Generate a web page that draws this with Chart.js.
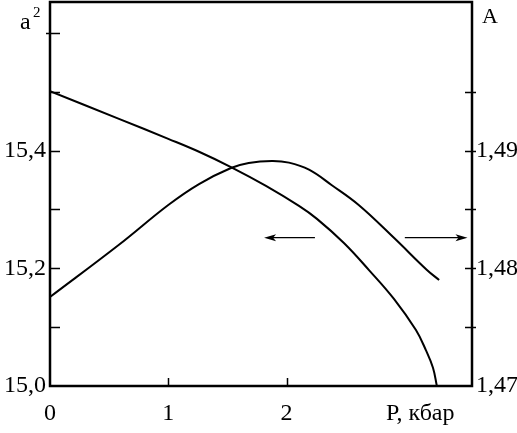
<!DOCTYPE html>
<html>
<head>
<meta charset="utf-8">
<script src="https://cdn.jsdelivr.net/npm/chart.js@4"></script>
<style>
html,body{margin:0;padding:0;background:#fff;}
#wrap{width:517px;height:433px;}
</style>
</head>
<body>
<div id="wrap"><canvas id="c" width="517" height="433"></canvas></div>
<script>
// ---- data ----
const pressureA2 = [0, 0.583, 1.0, 1.26, 1.53, 1.826, 2.105, 2.257, 2.485, 2.697, 2.908, 3.094, 3.178, 3.238, 3.271];
const a2Values   = [15.501, 15.454, 15.420, 15.398, 15.372, 15.340, 15.306, 15.284, 15.243, 15.197, 15.148, 15.095, 15.061, 15.031, 15.0];
const pressureA  = [0, 0.583, 1.0, 1.26, 1.53, 1.68, 1.877, 2.02, 2.19, 2.38, 2.61, 2.91, 3.187, 3.29];
const aValues    = [1.47756, 1.48200, 1.48538, 1.48716, 1.48852, 1.48895, 1.48912, 1.48898, 1.48838, 1.48708, 1.48538, 1.48257, 1.47986, 1.47901];

const xTickLabels = [0, 1, 2];
const xTitle = "P, кбар";
const xTitleAt = 3.13;
const xTickMarks = [1, 2];
const leftTickLabels = [15.0, 15.2, 15.4];
const leftTickMarks = [15.1, 15.2, 15.3, 15.4, 15.5, 15.6];
const rightTickLabels = [1.47, 1.48, 1.49];
const rightTickMarks = [1.475, 1.48, 1.485, 1.49, 1.495];
const leftTitle = "a";
const leftTitleSup = "2";
const rightTitle = "A";
// arrows in data units (left-axis values)
const arrowLeft  = {from: 2.24, to: 1.81, at: 15.252};
const arrowRight = {from: 3.00, to: 3.53, at: 15.252};

const FONT = "'Liberation Serif', 'Times New Roman', serif";

const pts = (xs, ys) => xs.map((x, i) => ({x: x, y: ys[i]}));

const framePlugin = {
  id: 'frame',
  afterDraw(chart) {
    const ctx = chart.ctx, a = chart.chartArea;
    const xs = chart.scales.x, yl = chart.scales.y, yr = chart.scales.y2;
    ctx.save();
    ctx.strokeStyle = '#000';
    // frame
    ctx.lineWidth = 2.5;
    ctx.strokeRect(a.left, a.top, a.right - a.left, a.bottom - a.top);
    // ticks
    ctx.lineWidth = 1.5;
    ctx.beginPath();
    leftTickMarks.forEach(v => {
      const y = Math.round(yl.getPixelForValue(v)) + 0.5;
      ctx.moveTo(a.left - (v >= 15.6 ? 4 : 0), y);
      ctx.lineTo(a.left + 10, y);
    });
    rightTickMarks.forEach(v => {
      const y = Math.round(yr.getPixelForValue(v)) + 0.5;
      ctx.moveTo(a.right - 7, y);
      ctx.lineTo(a.right + 4, y);
    });
    xTickMarks.forEach(v => {
      const x = Math.round(xs.getPixelForValue(v)) + 0.5;
      ctx.moveTo(x, a.bottom);
      ctx.lineTo(x, a.bottom - 8);
    });
    ctx.stroke();
    // arrows
    const drawArrow = (ar) => {
      const y = yl.getPixelForValue(ar.at);
      const x1 = xs.getPixelForValue(ar.from), x2 = xs.getPixelForValue(ar.to);
      const d = x2 > x1 ? 1 : -1;
      ctx.lineWidth = 1.2;
      ctx.beginPath();
      ctx.moveTo(x1, y); ctx.lineTo(x2 - d * 6, y);
      ctx.stroke();
      ctx.beginPath();
      ctx.moveTo(x2, y);
      ctx.lineTo(x2 - d * 12, y - 3.5);
      ctx.lineTo(x2 - d * 9, y);
      ctx.lineTo(x2 - d * 12, y + 3.5);
      ctx.closePath();
      ctx.fillStyle = '#000';
      ctx.fill();
    };
    drawArrow(arrowLeft);
    drawArrow(arrowRight);
    // axis titles
    ctx.fillStyle = '#000';
    ctx.textBaseline = 'alphabetic';
    ctx.textAlign = 'left';
    ctx.font = '24px ' + FONT;
    ctx.fillText(leftTitle, 20, 29);
    ctx.font = '15px ' + FONT;
    ctx.fillText(leftTitleSup, 33, 17);
    ctx.font = '22px ' + FONT;
    ctx.fillText(rightTitle, 482, 23);
    ctx.restore();
  }
};

new Chart(document.getElementById('c'), {
  type: 'line',
  data: {
    datasets: [
      {label: 'a2', data: pts(pressureA2, a2Values), yAxisID: 'y',
       borderColor: '#000', borderWidth: 2, pointRadius: 0, tension: 0.4, fill: false},
      {label: 'A', data: pts(pressureA, aValues), yAxisID: 'y2',
       borderColor: '#000', borderWidth: 2, pointRadius: 0, tension: 0.4, fill: false}
    ]
  },
  options: {
    responsive: false,
    animation: false,
    events: [],
    layout: {padding: {top: 2, left: 0, right: 0, bottom: 0}},
    plugins: {legend: {display: false}, tooltip: {enabled: false}},
    scales: {
      x: {
        type: 'linear', min: 0, max: 3.568,
        border: {display: false},
        grid: {display: false, drawTicks: false},
        afterBuildTicks: s => { s.ticks = xTickLabels.concat([xTitleAt]).map(v => ({value: v})); },
        afterFit: s => { s.height = 47; s.paddingLeft = 0; s.paddingRight = 0; },
        ticks: {
          autoSkip: false, maxRotation: 0, padding: 13, color: '#000',
          font: {family: FONT, size: 24},
          callback: (v) => v === xTitleAt ? xTitle : String(v)
        }
      },
      y: {
        type: 'linear', position: 'left', min: 15.0, max: 15.6525,
        border: {display: false},
        grid: {display: false, drawTicks: false},
        afterBuildTicks: s => { s.ticks = leftTickLabels.map(v => ({value: v})); },
        afterFit: s => { s.width = 50; s.paddingTop = 0; s.paddingBottom = 0; },
        ticks: {
          autoSkip: false, padding: 4, color: '#000',
          font: {family: FONT, size: 24},
          callback: v => v.toFixed(1).replace('.', ',')
        }
      },
      y2: {
        type: 'linear', position: 'right', min: 1.47, max: 1.502625,
        border: {display: false},
        grid: {display: false, drawTicks: false},
        afterBuildTicks: s => { s.ticks = rightTickLabels.map(v => ({value: v})); },
        afterFit: s => { s.width = 45; s.paddingTop = 0; s.paddingBottom = 0; },
        ticks: {
          autoSkip: false, padding: 4, color: '#000',
          font: {family: FONT, size: 24},
          callback: v => v.toFixed(2).replace('.', ',')
        }
      }
    }
  },
  plugins: [framePlugin]
});
</script>
</body>
</html>
